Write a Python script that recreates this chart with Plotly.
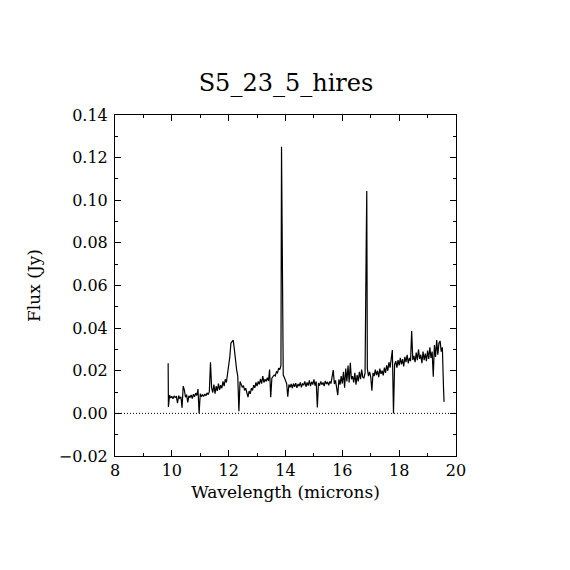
import plotly.graph_objects as go

# Spectrum values (wavelength in microns, flux in Jy)
wavelength = [
    9.87,
    9.88, 9.92, 9.96, 10.00, 10.04, 10.08, 10.12, 10.16, 10.20, 10.24,
    10.28, 10.32, 10.36, 10.40, 10.44, 10.48, 10.52, 10.56, 10.60, 10.64,
    10.68, 10.72, 10.76, 10.80, 10.84, 10.88, 10.92, 10.96, 11.00, 11.04,
    11.08, 11.12, 11.16, 11.20, 11.24, 11.28, 11.32, 11.36, 11.40, 11.44,
    11.48, 11.52, 11.56, 11.60, 11.64, 11.68, 11.72, 11.76, 11.80, 11.84,
    11.88, 11.92, 11.96, 12.00, 12.04, 12.08, 12.12, 12.16, 12.20, 12.24,
    12.28, 12.32, 12.36, 12.40, 12.44, 12.48, 12.52, 12.56, 12.60, 12.64,
    12.68, 12.72, 12.76, 12.80, 12.84, 12.88, 12.92, 12.96, 13.00, 13.04,
    13.08, 13.12, 13.16, 13.20, 13.24, 13.28, 13.32, 13.36, 13.40, 13.44,
    13.48, 13.52, 13.56, 13.60, 13.64, 13.68, 13.72, 13.76, 13.80, 13.84,
    13.86, 13.88, 13.92,
    13.96, 14.00, 14.04, 14.08, 14.12, 14.16, 14.20, 14.24, 14.28, 14.32,
    14.36, 14.40, 14.44, 14.48, 14.52, 14.56, 14.60, 14.64, 14.68, 14.72,
    14.76, 14.80, 14.84, 14.88, 14.92, 14.96, 15.00, 15.04, 15.08, 15.12,
    15.16, 15.20, 15.24, 15.28, 15.32, 15.36, 15.40, 15.44, 15.48, 15.52,
    15.56, 15.60, 15.64, 15.68, 15.72, 15.76, 15.80, 15.84, 15.88, 15.92,
    15.96, 16.00, 16.04, 16.08, 16.12, 16.16, 16.20, 16.24, 16.28, 16.32,
    16.36, 16.40, 16.44, 16.48, 16.52, 16.56, 16.60, 16.64, 16.68, 16.72,
    16.76, 16.80, 16.84, 16.86, 16.88, 16.92,
    16.96, 17.00, 17.04, 17.08, 17.12, 17.16, 17.20, 17.24, 17.28, 17.32,
    17.36, 17.40, 17.44, 17.48, 17.52, 17.56, 17.60, 17.64, 17.68, 17.72,
    17.76, 17.80, 17.84, 17.88, 17.92, 17.96, 18.00, 18.04, 18.08, 18.12,
    18.16, 18.20, 18.24, 18.28, 18.32, 18.36, 18.40, 18.44, 18.48, 18.52,
    18.56, 18.60, 18.64, 18.68, 18.72, 18.76, 18.80, 18.84, 18.88, 18.92,
    18.96, 19.00, 19.04, 19.08, 19.12, 19.16, 19.20, 19.24, 19.28, 19.32,
    19.36, 19.40, 19.44, 19.48, 19.52, 19.56, 19.58,
]

flux = [
    0.0235,
    0.0030, 0.0085, 0.0072, 0.0080, 0.0068, 0.0082, 0.0075, 0.0079, 0.0048, 0.0083,
    0.0071, 0.0078, 0.0026, 0.0128, 0.0110, 0.0076, 0.0088, 0.0052, 0.0082, 0.0074,
    0.0086, 0.0069, 0.0090, 0.0078, 0.0095, 0.0084, 0.0114, 0.0000, 0.0092, 0.0080,
    0.0087, 0.0079, 0.0091, 0.0083, 0.0096, 0.0088, 0.0102, 0.0240, 0.0120, 0.0098,
    0.0135, 0.0092, 0.0128, 0.0105, 0.0140, 0.0110, 0.0132, 0.0118, 0.0150, 0.0128,
    0.0160, 0.0145, 0.0185, 0.0220, 0.0265, 0.0330, 0.0338, 0.0344, 0.0300, 0.0245,
    0.0205, 0.0175, 0.0010, 0.0150, 0.0138, 0.0122, 0.0130, 0.0108, 0.0118, 0.0098,
    0.0076, 0.0105, 0.0092, 0.0118, 0.0108, 0.0132, 0.0120, 0.0145, 0.0128, 0.0150,
    0.0136, 0.0162, 0.0140, 0.0175, 0.0145, 0.0160, 0.0150, 0.0168, 0.0152, 0.0206,
    0.0076, 0.0165, 0.0172, 0.0180, 0.0176, 0.0195, 0.0190, 0.0212, 0.0205, 0.0225,
    0.1251, 0.0646, 0.0180,
    0.0168, 0.0148, 0.0140, 0.0078, 0.0135, 0.0122, 0.0138, 0.0118, 0.0140, 0.0125,
    0.0142, 0.0120, 0.0138, 0.0128, 0.0145, 0.0122, 0.0140, 0.0132, 0.0150, 0.0125,
    0.0145, 0.0130, 0.0155, 0.0128, 0.0148, 0.0135, 0.0160, 0.0130, 0.0150, 0.0028,
    0.0142, 0.0130, 0.0150, 0.0135, 0.0145, 0.0128, 0.0152, 0.0138, 0.0148, 0.0132,
    0.0150, 0.0140, 0.0165, 0.0203, 0.0138, 0.0155, 0.0120, 0.0086, 0.0160, 0.0135,
    0.0175, 0.0140, 0.0195, 0.0120, 0.0210, 0.0150, 0.0225, 0.0145, 0.0237, 0.0160,
    0.0175, 0.0145, 0.0190, 0.0135, 0.0180, 0.0150, 0.0195, 0.0160, 0.0205, 0.0170,
    0.0165, 0.0190, 0.0790, 0.1043, 0.0210, 0.0175,
    0.0195, 0.0170, 0.0106, 0.0190, 0.0175, 0.0205, 0.0180, 0.0200, 0.0170, 0.0210,
    0.0185, 0.0200, 0.0178, 0.0215, 0.0190, 0.0225, 0.0200, 0.0240, 0.0215, 0.0260,
    0.0297, 0.0000, 0.0230, 0.0245, 0.0215, 0.0250, 0.0225, 0.0260, 0.0230, 0.0255,
    0.0220, 0.0265, 0.0240, 0.0275, 0.0235, 0.0260, 0.0245, 0.0386, 0.0250, 0.0270,
    0.0240, 0.0285, 0.0250, 0.0300, 0.0255, 0.0275, 0.0235, 0.0290, 0.0250, 0.0280,
    0.0245, 0.0295, 0.0255, 0.0310, 0.0260, 0.0290, 0.0172, 0.0320, 0.0265, 0.0344,
    0.0275, 0.0330, 0.0340, 0.0290, 0.0310, 0.0120, 0.0054,
]

zero_x = [8, 20]
zero_y = [0, 0]

x_range = [8, 20]
y_range = [-0.02, 0.14]

title_text = "S5_23_5_hires"
x_title = "Wavelength (microns)"
y_title = "Flux (Jy)"

FONT = "DejaVu Serif"

fig = go.Figure()
fig.add_trace(go.Scatter(
    x=zero_x, y=zero_y, mode="lines",
    line=dict(color="black", width=1, dash="1px,2px"),
    hoverinfo="skip", showlegend=False,
))
fig.add_trace(go.Scatter(
    x=wavelength, y=flux, mode="lines",
    line=dict(color="black", width=1.2),
    showlegend=False,
))

axis_common = dict(
    showline=True, linecolor="black", linewidth=1, mirror="allticks",
    ticks="inside", ticklen=6, tickwidth=1, tickcolor="black",
    showgrid=False, zeroline=False,
    tickfont=dict(family=FONT, size=16, color="black"),
)

fig.update_xaxes(
    range=x_range, dtick=2, tick0=8,
    minor=dict(dtick=1, ticks="inside", ticklen=3, tickcolor="black", showgrid=False),
    title=dict(text=x_title, font=dict(family=FONT, size=17, color="black"), standoff=6),
    **axis_common,
)
fig.update_yaxes(
    range=y_range, dtick=0.02, tick0=0, tickformat=".2f", ticklabelstandoff=3,
    minor=dict(dtick=0.01, ticks="inside", ticklen=3, tickcolor="black", showgrid=False),
    title=dict(text=y_title, font=dict(family=FONT, size=17, color="black"), standoff=13),
    **axis_common,
)

fig.update_layout(
    width=570, height=570,
    margin=dict(l=107, r=122, t=107, b=122),
    paper_bgcolor="white", plot_bgcolor="white",
    title=dict(text=title_text, x=(285 - 7) / 570, xanchor="center", xref="container",
               y=1 - (82 - 7) / 570, yref="container", yanchor="middle",
               font=dict(family=FONT, size=24, color="black")),
)

fig.write_html("out.html")
